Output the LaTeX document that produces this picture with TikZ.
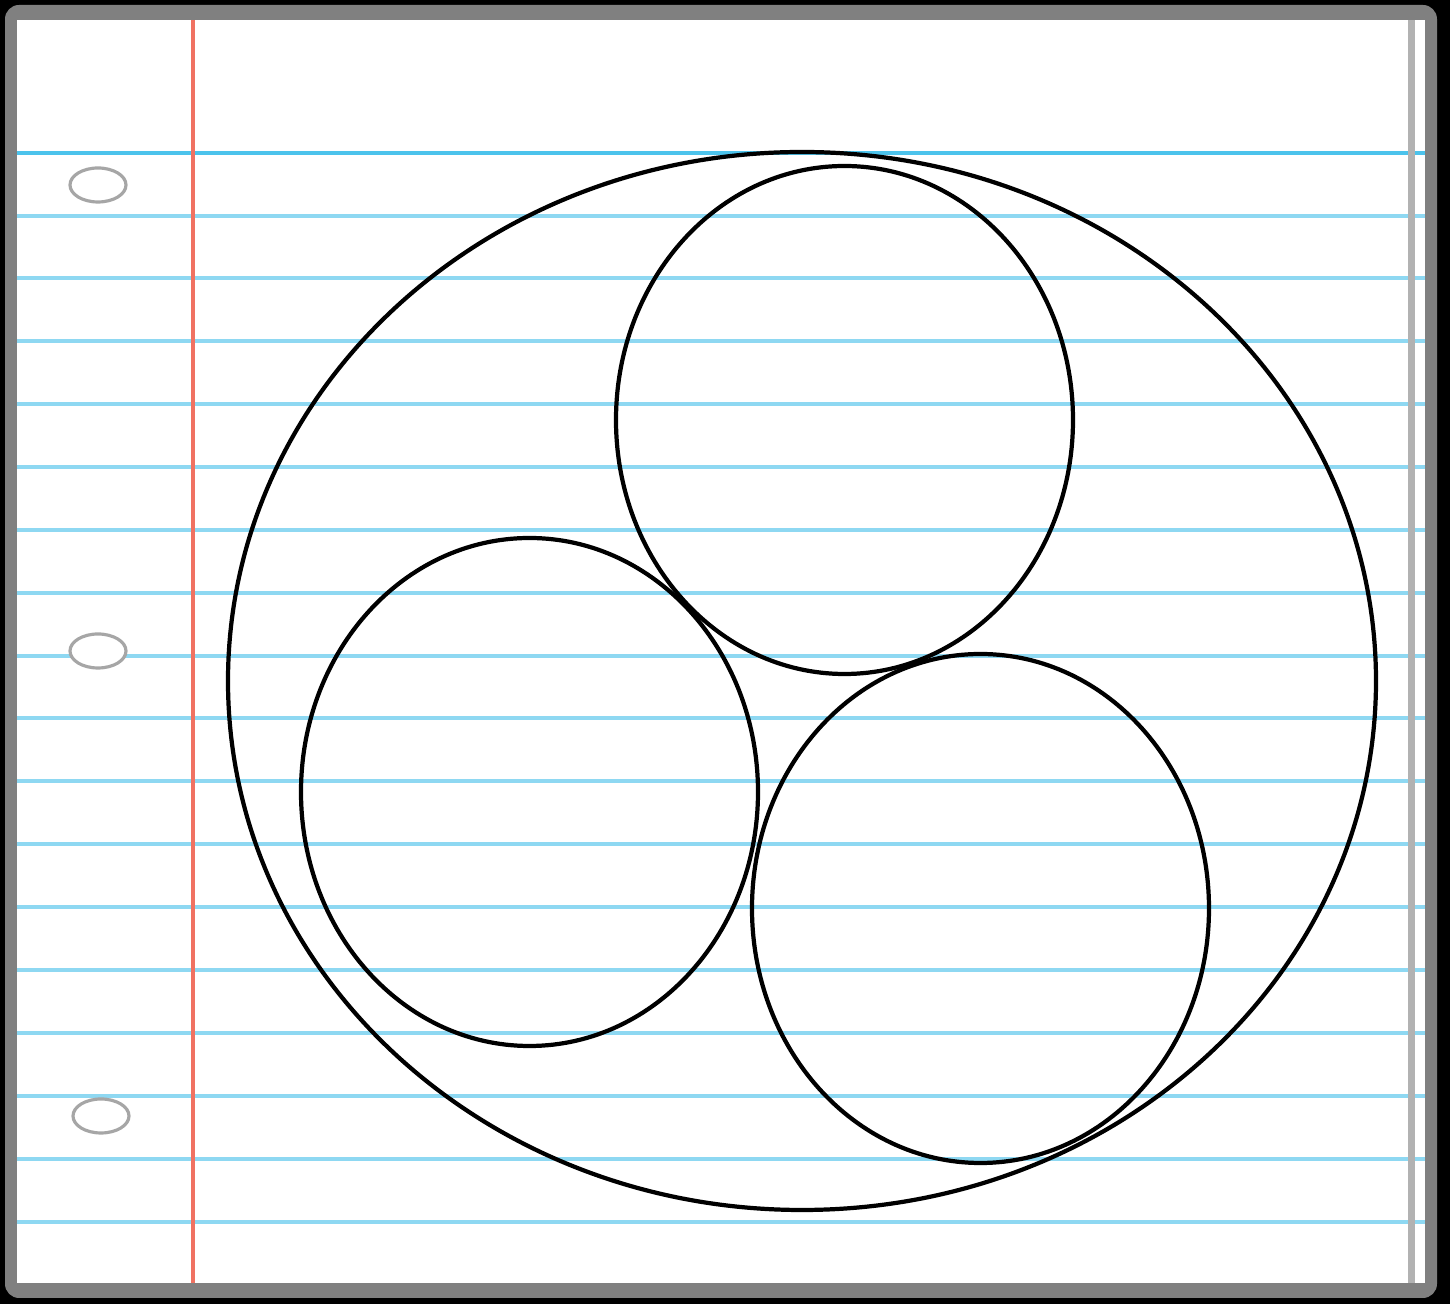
\documentclass[tikz,border=0pt]{standalone}
\definecolor{frame}{HTML}{808080}
\definecolor{rule}{HTML}{8ED8F2}
\definecolor{ruledark}{HTML}{4CC3EC}
\definecolor{margin}{HTML}{F07262}
\tikzset{
  px/.style={x=0.01cm,y=-0.01cm},
  ruleline/.style={draw=rule,line width=1.1pt},
  hole/.style={draw=gray!70,line width=0.9pt},
  outline/.style={draw=black,line width=1.2pt}
}
\begin{document}
\begin{tikzpicture}[px]
\useasboundingbox (0,0) rectangle (1450,1304);
\fill[black] (0,0) rectangle (1450,1304);
\fill[frame,rounded corners=4pt] (5,5) rectangle (1437,1298);
\fill[white] (17,20) rectangle (1425,1283);
% ruled lines
\draw[ruledark,line width=1.2pt] (17,153) -- (1425,153);
\foreach \y in {216,278,341,404,467,530,593,656,718,781,844,907,970,1033,1096,1159,1222}
  \draw[ruleline] (17,\y) -- (1425,\y);
% right shadow strip
\fill[gray!60] (1408,20) rectangle (1415,1283);
% margin line
\draw[margin,line width=1pt] (193,20) -- (193,1283);
% holes
\draw[hole,fill=white] (98,185) ellipse [x radius=28,y radius=17];
\draw[hole,fill=white] (98,651) ellipse [x radius=28,y radius=17];
\draw[hole,fill=white] (101,1116) ellipse [x radius=28,y radius=17];
% shapes
\draw[outline] (802,681) ellipse [x radius=574,y radius=529];
\draw[outline] (844.5,420) ellipse [x radius=228.5,y radius=254];
\draw[outline] (529.5,792) ellipse [x radius=228.5,y radius=254];
\draw[outline] (980.5,908.5) ellipse [x radius=228.5,y radius=254.5];
\end{tikzpicture}
\end{document}
